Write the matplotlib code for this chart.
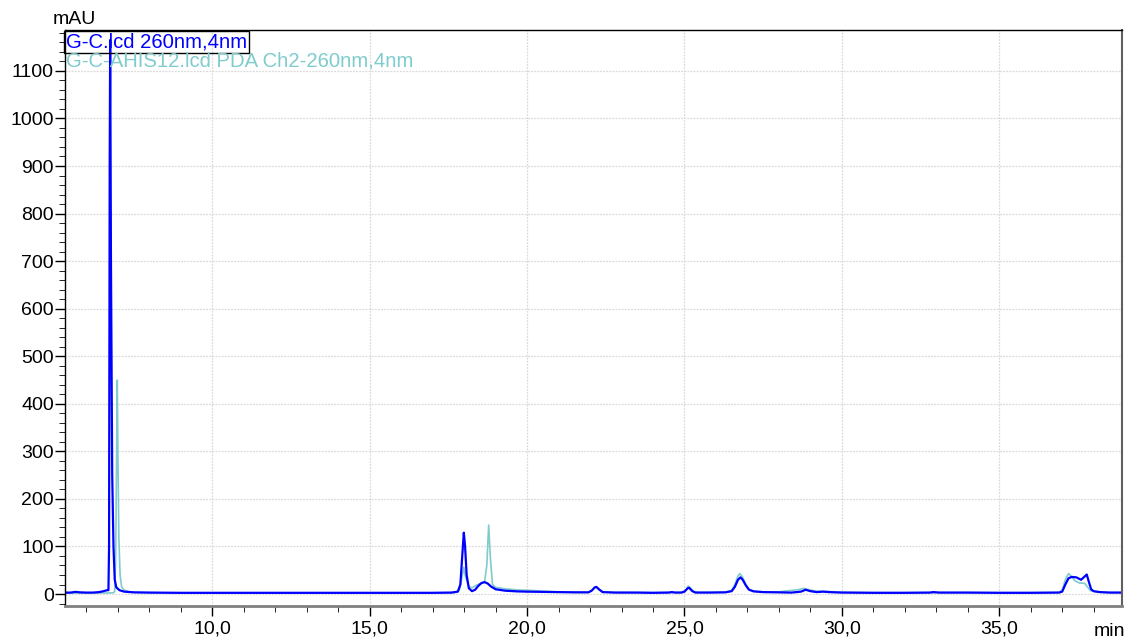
import numpy as np
import matplotlib.pyplot as plt
from matplotlib.ticker import MultipleLocator, FuncFormatter

plt.rcParams['font.family'] = ['Liberation Sans', 'DejaVu Sans']

# G-C.lcd 260nm,4nm (blue)
t_gc = [5.32, 5.5, 5.65, 5.8, 6.0, 6.2, 6.4, 6.55, 6.65, 6.70, 6.72, 6.74, 6.755, 6.78, 6.82,
        6.86, 6.9, 6.95, 7.05, 7.2, 7.5, 8.0, 9.0, 10.0, 12.0, 14.0, 16.0, 17.0, 17.6, 17.8,
        17.88, 17.94, 17.99, 18.03, 18.08, 18.15, 18.25, 18.35, 18.45, 18.55, 18.65, 18.75,
        18.85, 19.0, 19.3, 19.7, 20.0, 20.5, 21.0, 21.5, 21.95, 22.05, 22.15, 22.2, 22.3, 22.4,
        22.8, 23.5, 24.0, 24.5, 24.6, 24.7, 24.9, 25.0, 25.1, 25.15, 25.25, 25.35, 25.8, 26.3,
        26.5, 26.6, 26.7, 26.78, 26.85, 26.95, 27.05, 27.2, 27.5, 28.0, 28.4, 28.7, 28.85, 29.0,
        29.2, 29.4, 29.6, 30.0, 31.0, 32.0, 32.8, 32.9, 33.1, 34.0, 35.0, 36.0, 36.9, 37.0,
        37.1, 37.2, 37.3, 37.45, 37.6, 37.7, 37.78, 37.85, 37.92, 38.0, 38.2, 38.5, 38.9]
v_gc = [3, 3, 4.5, 3.5, 3, 3, 4, 6, 8, 8, 100, 900, 1165, 700, 250,
        100, 30, 14, 8, 5, 3.5, 3, 2.5, 2.5, 2.5, 2.5, 2.5, 2.5, 3, 5,
        20, 80, 129, 100, 40, 12, 6, 9, 17, 23, 25, 22,
        16, 10, 7, 5.5, 5, 4.5, 4, 3.5, 3.5, 7, 14, 15, 9, 4,
        3, 3, 2.5, 3, 4, 3, 3, 5, 12, 13, 6, 3, 3, 3.5,
        6, 15, 30, 35, 30, 18, 9, 5.5, 4, 3.5, 3, 5, 9, 6,
        4, 5, 4, 3, 2.5, 2.5, 3, 4, 3, 3, 2.5, 2.5, 3, 5,
        20, 33, 36, 35, 30, 36, 41, 25, 10, 6, 4, 3, 3]

# G-C-AHIS12.lcd PDA Ch2-260nm,4nm (teal)
t_ah = [5.32, 6.0, 6.5, 6.85, 6.9, 6.93, 6.96, 6.98, 7.0, 7.03, 7.07, 7.12, 7.2, 7.4, 7.8,
        9.0, 16.0, 17.0, 17.7, 17.85, 17.93, 17.99, 18.05, 18.15, 18.25, 18.4, 18.55, 18.65,
        18.72, 18.78, 18.83, 18.9, 19.0, 19.3, 19.7, 20.0, 20.5, 21.0, 21.5, 21.95, 22.05,
        22.15, 22.2, 22.3, 22.4, 22.8, 24.0, 24.6, 24.9, 25.05, 25.12, 25.2, 25.3, 25.5, 26.3,
        26.5, 26.6, 26.7, 26.76, 26.85, 26.95, 27.05, 27.2, 27.5, 28.0, 28.3, 28.6, 28.8, 28.95,
        29.2, 29.5, 30.0, 31.0, 33.0, 35.0, 36.0, 36.9, 37.0, 37.1, 37.2, 37.28, 37.4, 37.55,
        37.65, 37.72, 37.8, 37.9, 38.1, 38.9]
v_ah = [2, 2, 2, 2.5, 5, 80, 300, 450, 300, 120, 40, 15, 8, 4, 3,
        2, 2, 2.5, 3, 8, 35, 56, 35, 16, 13, 19, 23, 26,
        60, 145, 80, 20, 14, 11, 8.5, 8, 6, 4.5, 4, 3.5, 7,
        13, 14, 9, 4.5, 3.5, 3, 3.5, 3.5, 8, 17, 12, 5, 3.5, 4,
        8, 20, 38, 43, 35, 20, 10, 6, 4.5, 4.5, 7, 9, 12, 9,
        6, 5.5, 4, 3, 3, 3, 3, 3.5, 8, 30, 43, 38, 28, 23,
        23, 22, 15, 7, 4, 3]

labels = ['G-C.lcd 260nm,4nm', 'G-C-AHIS12.lcd PDA Ch2-260nm,4nm']
colors = ['#0000ff', '#80cccc']

fig = plt.figure(figsize=(11.29, 6.40), dpi=100)
ax = fig.add_axes([65 / 1129, 34 / 640, 1057 / 1129, 576 / 640])

ax.plot(t_ah, v_ah, color=colors[1], lw=1.2)
ax.plot(t_gc, v_gc, color=colors[0], lw=1.6)

ax.set_xlim(5.32, 38.9)
ax.set_ylim(-25.2, 1186)

ax.xaxis.set_major_locator(MultipleLocator(5))
ax.xaxis.set_minor_locator(MultipleLocator(1))
ax.yaxis.set_major_locator(MultipleLocator(100))
ax.yaxis.set_minor_locator(MultipleLocator(20))
ax.xaxis.set_major_formatter(FuncFormatter(lambda x, p: f"{x:.1f}".replace('.', ',')))
ax.yaxis.set_major_formatter(FuncFormatter(lambda y, p: f"{y:.0f}"))

ax.tick_params(axis='both', which='major', labelsize=14, direction='out', width=1)
ax.tick_params(axis='x', which='major', length=7, pad=3.5)
ax.tick_params(axis='x', which='minor', length=4)
ax.tick_params(axis='y', which='major', length=7, pad=1)
ax.tick_params(axis='y', which='minor', length=4)

ax.grid(True, which='major', color='#dadada', linestyle=(0, (1.5, 1)), lw=0.9)
ax.set_axisbelow(True)

for s in ['top', 'left']:
    ax.spines[s].set_color('black')
    ax.spines[s].set_linewidth(1)
ax.spines['right'].set_color('#606060')
ax.spines['right'].set_linewidth(1.5)
ax.spines['bottom'].set_color('#808080')
ax.spines['bottom'].set_linewidth(2)

ax.text(-0.0115, 1.0174, 'mAU', transform=ax.transAxes, fontsize=14, ha='left', va='center')
ax.text(1.003, -0.045, 'min', transform=ax.transAxes, fontsize=14, ha='right', va='center')

ax.text(0.001, 0.996, labels[0], transform=ax.transAxes, fontsize=14.6, color=colors[0],
        ha='left', va='top',
        bbox=dict(boxstyle='square,pad=0.08', fc='none', ec='black', lw=1))
ax.text(0.001, 0.962, labels[1], transform=ax.transAxes, fontsize=14.6, color=colors[1],
        ha='left', va='top')

fig.savefig('out.png', dpi=100)
